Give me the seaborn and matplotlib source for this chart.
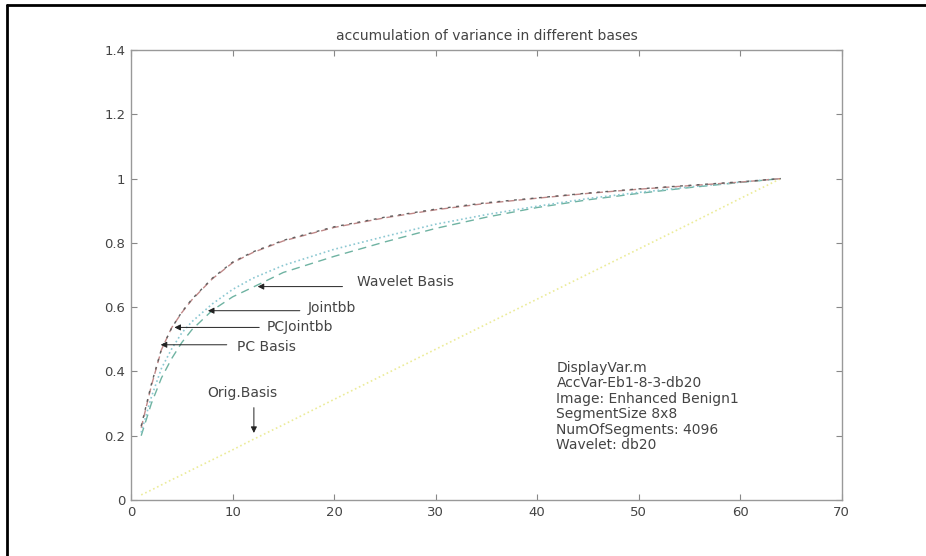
import matplotlib
matplotlib.use("Agg")
import matplotlib.pyplot as plt
from matplotlib.lines import Line2D
import seaborn as sns
import pandas as pd

# number of basis vectors kept
n_basis = [1, 2, 3, 4, 5, 6, 8, 10, 12, 15, 20, 25, 30, 35, 40, 45, 50, 55, 60, 64]

# accumulated fraction of variance per basis
pc_basis = [0.23, 0.36, 0.47, 0.535, 0.585, 0.625, 0.69, 0.74, 0.772, 0.808, 0.85, 0.88,
            0.905, 0.925, 0.94, 0.955, 0.968, 0.979, 0.99, 1.0]
pc_jointbb = [0.225, 0.355, 0.468, 0.536, 0.583, 0.623, 0.688, 0.738, 0.77, 0.806, 0.848, 0.878,
              0.903, 0.923, 0.939, 0.954, 0.967, 0.978, 0.989, 1.0]
jointbb = [0.21, 0.32, 0.41, 0.47, 0.52, 0.555, 0.61, 0.655, 0.69, 0.73, 0.78, 0.82,
           0.858, 0.888, 0.914, 0.938, 0.957, 0.974, 0.989, 1.0]
wavelet = [0.2, 0.3, 0.38, 0.44, 0.49, 0.53, 0.59, 0.632, 0.662, 0.708, 0.758, 0.803,
           0.845, 0.88, 0.91, 0.934, 0.954, 0.972, 0.988, 1.0]
orig_basis = [0.016, 0.031, 0.047, 0.063, 0.078, 0.094, 0.125, 0.156, 0.188, 0.234, 0.313, 0.391,
              0.469, 0.547, 0.625, 0.703, 0.781, 0.859, 0.938, 1.0]

x_ticks = [0, 10, 20, 30, 40, 50, 60, 70]
y_ticks = [0, 0.2, 0.4, 0.6, 0.8, 1.0, 1.2, 1.4]
y_tick_labels = ["0", "0.2", "0.4", "0.6", "0.8", "1", "1.2", "1.4"]

title = "accumulation of variance in different bases"
info_lines = ["DisplayVar.m", "AccVar-Eb1-8-3-db20", "Image: Enhanced Benign1",
              "SegmentSize 8x8", "NumOfSegments: 4096", "Wavelet: db20"]

sns.set_theme(style="white")
plt.rcParams["font.family"] = ["DejaVu Sans"]

fig = plt.figure(figsize=(9.26, 5.56), dpi=100)
fig.patch.set_facecolor("white")
ax = fig.add_axes([0.1415, 0.1007, 0.7675, 0.8093])

series = [
    (orig_basis, "#ecec9a", ":", 1.2),
    (wavelet, "#6fb3a2", (0, (6, 4)), 1.0),
    (jointbb, "#8cc8d2", ":", 1.2),
    (pc_jointbb, "#c08888", (0, (5, 3)), 1.0),
    (pc_basis, "#606060", (0, (2, 4)), 1.0),
]
for vals, col, ls, lw in series:
    df = pd.DataFrame({"k": n_basis, "v": vals})
    sns.lineplot(data=df, x="k", y="v", ax=ax, color=col, linestyle=ls, linewidth=lw)

ax.set_xlim(0, 70)
ax.set_ylim(0, 1.4)
ax.set_xticks(x_ticks)
ax.set_yticks(y_ticks)
ax.set_yticklabels(y_tick_labels)
ax.set_xlabel("")
ax.set_ylabel("")
ax.tick_params(direction="in", length=4, width=0.8, color="#888888",
               labelsize=9.5, labelcolor="#444444", top=True, right=True,
               bottom=True, left=True, pad=4)
for sp in ax.spines.values():
    sp.set_color("#999999")
    sp.set_linewidth(1.0)
ax.set_title(title, fontsize=10, color="#444444", pad=7)

arrow = dict(arrowstyle="-|>", color="#222222", lw=0.7, mutation_scale=9)
txt = dict(fontsize=10, color="#444444", va="center", ha="left")
ax.annotate("", xy=(12.2, 0.664), xytext=(21.1, 0.664), arrowprops=arrow)
ax.text(22.3, 0.679, "Wavelet Basis", **txt)
ax.annotate("", xy=(7.3, 0.589), xytext=(16.9, 0.589), arrowprops=arrow)
ax.text(17.4, 0.598, "Jointbb", **txt)
ax.annotate("", xy=(4.0, 0.537), xytext=(12.9, 0.537), arrowprops=arrow)
ax.text(13.4, 0.537, "PCJointbb", **txt)
ax.annotate("", xy=(2.65, 0.483), xytext=(9.7, 0.483), arrowprops=arrow)
ax.text(10.4, 0.477, "PC Basis", **txt)
ax.annotate("", xy=(12.1, 0.2), xytext=(12.1, 0.296), arrowprops=arrow)
ax.text(7.5, 0.333, "Orig.Basis", **txt)

for i, line in enumerate(info_lines):
    ax.text(41.9, 0.411 - i * 0.048, line, fontsize=10, color="#444444",
            va="center", ha="left")

# frame lines along the top and left edges of the figure
fig.add_artist(Line2D([7 / 926, 1.0], [1 - 5 / 556, 1 - 5 / 556],
                      transform=fig.transFigure, color="black", lw=2))
fig.add_artist(Line2D([7 / 926, 7 / 926], [0.0, 1 - 5 / 556],
                      transform=fig.transFigure, color="black", lw=2))

fig.savefig("out.png", dpi=100, facecolor="white")
